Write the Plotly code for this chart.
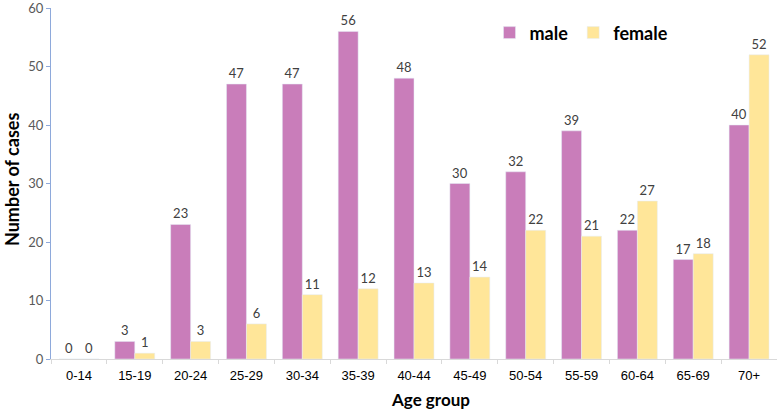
import plotly.graph_objects as go

age_groups = ["0-14", "15-19", "20-24", "25-29", "30-34", "35-39", "40-44",
              "45-49", "50-54", "55-59", "60-64", "65-69", "70+"]
male = [0, 3, 23, 47, 47, 56, 48, 30, 32, 39, 22, 17, 40]
female = [0, 1, 3, 6, 11, 12, 13, 14, 22, 21, 27, 18, 52]
y_ticks = [0, 10, 20, 30, 40, 50, 60]

font_name = "Lato"

fig = go.Figure()
fig.add_trace(go.Bar(name="male", x=age_groups, y=male, marker_color="#C97DBA",
                     text=male, textposition="outside",
                     textfont=dict(family=font_name, size=13, color="#404040"), cliponaxis=False))
fig.add_trace(go.Bar(name="female", x=age_groups, y=female, marker_color="#FFE699",
                     text=female, textposition="outside",
                     textfont=dict(family=font_name, size=13, color="#404040"), cliponaxis=False))

fig.update_layout(
    width=777, height=410,
    barmode="group", bargap=0.285, bargroupgap=0,
    plot_bgcolor="white", paper_bgcolor="white",
    margin=dict(l=51, r=0, t=5, b=51),
    font=dict(family=font_name, color="#595959"),
    showlegend=True,
    legend=dict(orientation="h", x=0.604, y=0.929, xanchor="left", yanchor="middle",
                font=dict(size=18, color="black", weight="bold"),
                itemwidth=30, bgcolor="rgba(0,0,0,0)"),
    annotations=[
        dict(text="Age group", xref="paper", yref="paper", x=(430 - 51) / 726, y=-41 / 354,
             xanchor="center", yanchor="middle", showarrow=False,
             font=dict(family=font_name, size=17, color="black", weight="bold")),
        dict(text="Number of cases", xref="paper", yref="paper", x=-39 / 726, y=0.51,
             xanchor="center", yanchor="middle", showarrow=False, textangle=-90,
             font=dict(family=font_name, size=18, color="black", weight="bold")),
    ],
)
fig.update_xaxes(
    tickfont=dict(family="Liberation Sans", size=13, color="black"),
    showline=True, linecolor="#D9D9D9", linewidth=1,
    ticks="outside", tickcolor="#D9D9D9", ticklen=4, tickson="boundaries",
    ticklabelstandoff=4,
    showgrid=False,
)
fig.update_yaxes(
    range=[0, 60], tickmode="array", tickvals=y_ticks,
    ticklabeloverflow="allow",
    tickfont=dict(family=font_name, size=13, color="#595959"),
    showline=True, linecolor="#8EA9DB", linewidth=1,
    ticks="outside", tickcolor="#8EA9DB", ticklen=4,
    showgrid=False, zeroline=False,
)

# drop the default page margin so the figure sits at the window's corner
fig.write_html("out.html", config={"displayModeBar": False},
               post_script="document.body.style.margin='0';")
